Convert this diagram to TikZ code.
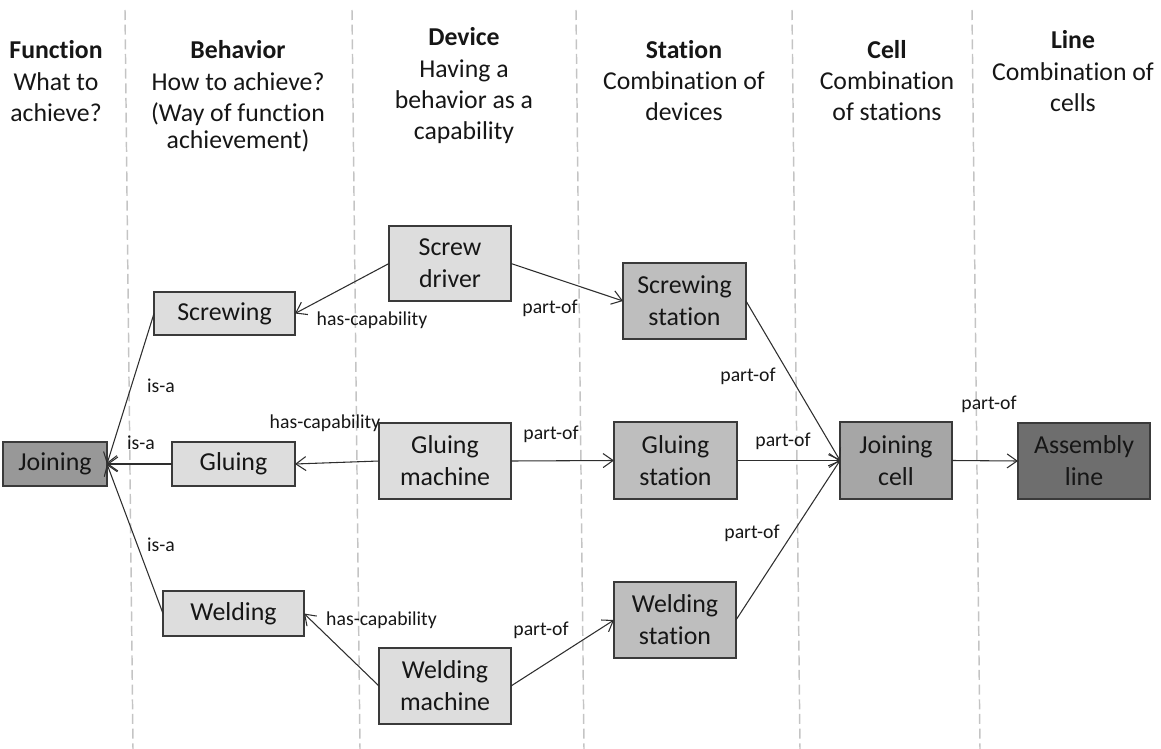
\documentclass[tikz,border=0pt]{standalone}
\usepackage{fontspec}
\setmainfont{Carlito}[Ligatures={NoCommon,NoContextual,NoRare},Contextuals=NoAlternate]
\usetikzlibrary{arrows.meta}

\definecolor{boxline}{HTML}{3A3A3A}
\definecolor{wire}{HTML}{2E2E2E}
\definecolor{lane}{HTML}{C4C4C4}
\definecolor{fillbeh}{HTML}{DDDDDD}
\definecolor{fillsta}{HTML}{BEBEBE}
\definecolor{fillfun}{HTML}{989898}
\definecolor{fillcell}{HTML}{A6A6A6}
\definecolor{fillline}{HTML}{6E6E6E}
\definecolor{ink}{HTML}{161616}

\newcommand\boxfont{\fontsize{19.4}{24}\selectfont}
\newcommand\headfont{\fontsize{19.3}{23.6}\selectfont}
\newcommand\relfont{\fontsize{14.8}{18}\selectfont}

% block from its corner coordinates (in px): style, name, x1, y1, x2, y2, text
\newcommand\blk[7]{%
  \node[#1, minimum width={(#5-#3)*0.75pt}, minimum height={(#6-#4)*0.75pt}]
    (#2) at ({(#3+#5)/2},{(#4+#6)/2}) {#7};}

\begin{document}
\begin{tikzpicture}[x=0.75pt,y=-0.75pt,
  block/.style={draw=boxline, line width=1pt, inner sep=0pt, outer sep=0pt,
    align=center, text=ink, font=\boxfont},
  behbox/.style={block, fill=fillbeh},
  stabox/.style={block, fill=fillsta},
  funbox/.style={block, fill=fillfun},
  cellbox/.style={block, fill=fillcell},
  linebox/.style={block, fill=fillline},
  % the base anchor of a multi-line heading sits on its last line
  head/.style={align=center, text=ink, font=\headfont, inner sep=0pt, anchor=base},
  rel/.style={text=ink, font=\relfont, inner sep=0pt},
  link/.style={draw=wire, line width=0.8pt,
    -{Straight Barb[length=7.5pt,width=10.5pt,line width=0.8pt]}},
  laneline/.style={draw=lane, line width=1.1pt, dash pattern=on 7.5pt off 3.5pt}
]
\useasboundingbox (0,0) rectangle (1161,749);

% column separators
\foreach \xt in {125,352,576,792,972}
  \draw[laneline] (\xt,10) -- ({\xt+8},749);

% column headings
\node[head] (hfun) at (56,121.5) {\textbf{Function}\\What to\\achieve?};
\node[head] (hbeh) at (238,148.3) {\textbf{Behavior}\\How to achieve?\\(Way of function\\[-3.5pt]achievement)};
\node[head] (hdev) at (464,140) {\textbf{Device}\\Having a\\behavior as a\\capability};
\node[head] (hsta) at (684,121) {\textbf{Station}\\Combination of\\devices};
\node[head] (hcel) at (887,121) {\textbf{Cell}\\Combination\\of stations};
\node[head] (hlin) at (1073,111.5) {\textbf{Line}\\Combination of\\cells};

% blocks
\blk{funbox}{joining}{3}{442}{107}{486}{Joining}
\blk{behbox}{screwing}{154}{292}{295}{335}{Screwing}
\blk{behbox}{gluing}{172}{442}{295}{486}{Gluing}
\blk{behbox}{welding}{163}{591}{304}{636}{Welding}
\blk{behbox}{driver}{389}{226}{511}{301}{Screw\\driver}
\blk{behbox}{gluem}{379}{423}{511}{499}{Gluing\\machine}
\blk{behbox}{weldm}{379}{648}{511}{724}{Welding\\machine}
\blk{stabox}{screwst}{623}{263}{746}{339}{Screwing\\station}
\blk{stabox}{gluest}{614}{422}{737}{499}{Gluing\\station}
\blk{stabox}{weldst}{614}{582}{736}{658}{Welding\\station}
\blk{cellbox}{jcell}{840}{422}{952}{499}{Joining\\cell}
\blk{linebox}{aline}{1018}{423}{1150}{499}{Assembly\\line}

% is-a
\draw[link] (screwing.west) -- (joining.east);
\draw[link] (gluing.west) -- (joining.east);
\draw[link] (welding.west) -- (joining.east);
% has-capability
\draw[link] (driver.west) -- (screwing.east);
\draw[link] (gluem.west) -- (gluing.east);
\draw[link] (weldm.west) -- (welding.east);
% part-of
\draw[link] (driver.east) -- (screwst.west);
\draw[link] (gluem.east) -- (gluest.west);
\draw[link] (weldm.east) -- (weldst.west);
\draw[link] (screwst.east) -- (jcell.west);
\draw[link] (gluest.east) -- (jcell.west);
\draw[link] (weldst.east) -- (jcell.west);
\draw[link] (jcell.east) -- (aline.west);

% relation labels
\node[rel] (l1) at (161,386) {is-a};
\node[rel] (l2) at (141,443) {is-a};
\node[rel] (l3) at (161,545) {is-a};
\node[rel] (l4) at (372,320) {has-capability};
\node[rel] (l5) at (325,423) {has-capability};
\node[rel] (l6) at (381.5,620) {has-capability};
\node[rel] (l7) at (550,308) {part-of};
\node[rel] (l8) at (551,434) {part-of};
\node[rel] (l9) at (541,630) {part-of};
\node[rel] (l10) at (748,376) {part-of};
\node[rel] (l11) at (783,441) {part-of};
\node[rel] (l12) at (752,533) {part-of};
\node[rel] (l13) at (989,404) {part-of};
\end{tikzpicture}
\end{document}
